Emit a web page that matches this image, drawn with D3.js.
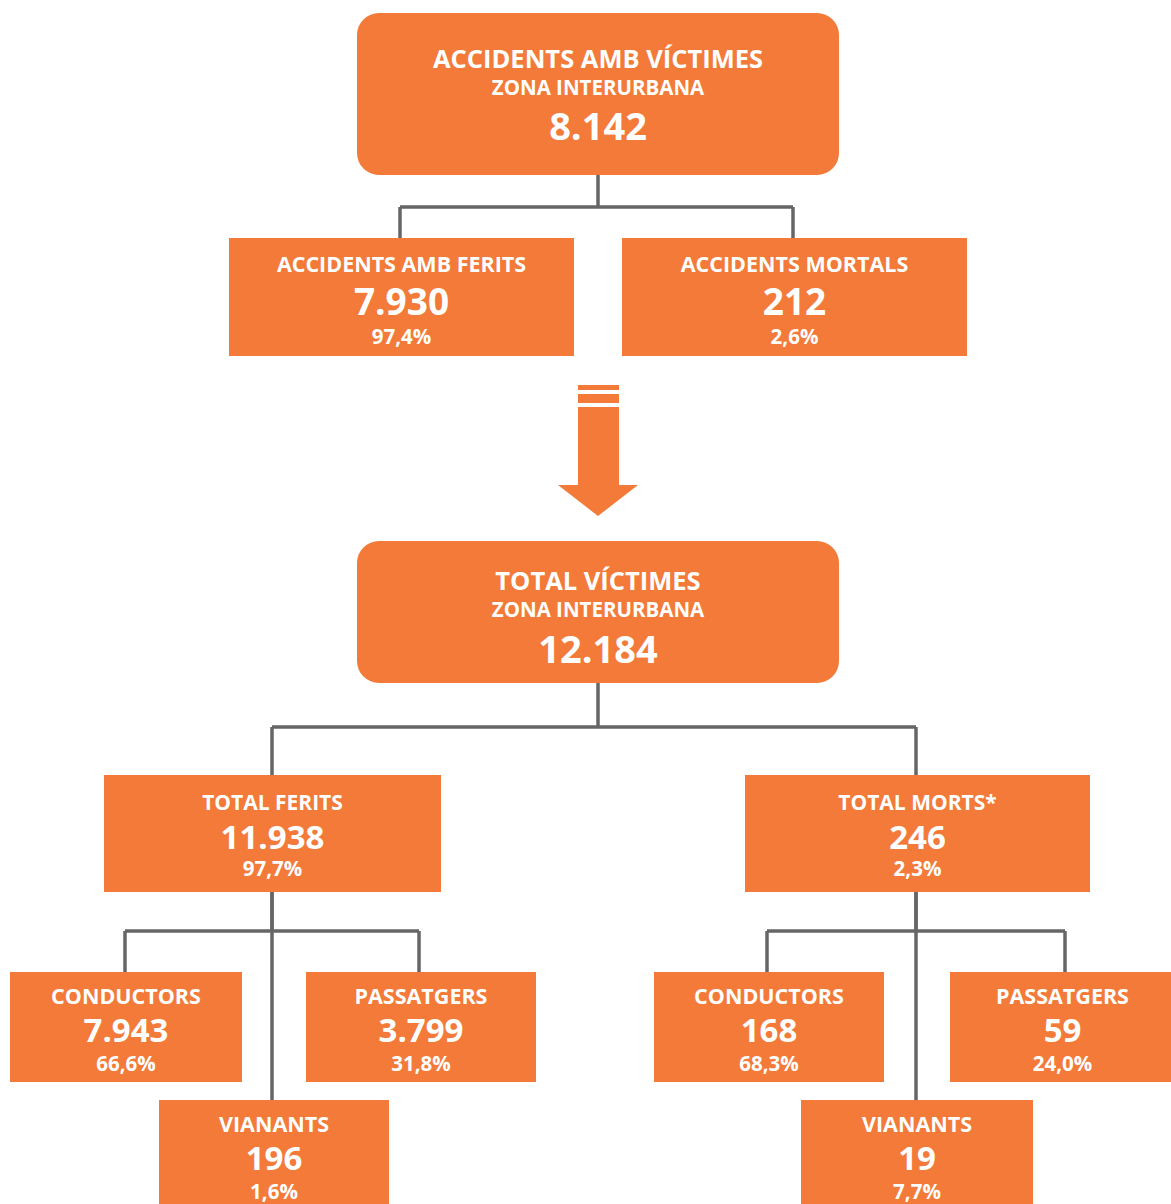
<!DOCTYPE html>
<html><head><meta charset="utf-8">
<script src="https://cdn.jsdelivr.net/npm/d3@7"></script>
<style>html,body{margin:0;padding:0;background:#fff}svg{display:block}</style>
</head><body>
<script>
// ---- data ----
const nodeIds   = ["acc","accF","accM","vic","fer","mor","ferC","ferP","ferV","morC","morP","morV"];
const titles    = ["ACCIDENTS AMB VÍCTIMES","ACCIDENTS AMB FERITS","ACCIDENTS MORTALS","TOTAL VÍCTIMES","TOTAL FERITS","TOTAL MORTS*","CONDUCTORS","PASSATGERS","VIANANTS","CONDUCTORS","PASSATGERS","VIANANTS"];
const subtitles = ["ZONA INTERURBANA","","","ZONA INTERURBANA","","","","","","","",""];
const values    = ["8.142","7.930","212","12.184","11.938","246","7.943","3.799","196","168","59","19"];
const percents  = ["","97,4%","2,6%","","97,7%","2,3%","66,6%","31,8%","1,6%","68,3%","24,0%","7,7%"];
const parents   = ["","acc","acc","","vic","vic","fer","fer","fer","mor","mor","mor"];

// ---- layout (positions/sizes only) ----
const W = 1171, H = 1204;
const ORANGE = "#F37A38", GREY = "#666666";
const box = {
  acc:  {x:357, y:13,  w:482, h:162, r:22, kind:"big"},
  accF: {x:229, y:238, w:345, h:118, kind:"mid"},
  accM: {x:622, y:238, w:345, h:118, kind:"mid"},
  vic:  {x:357, y:541, w:482, h:142, r:22, kind:"big2"},
  fer:  {x:104, y:775, w:337, h:117, kind:"mid2"},
  mor:  {x:745, y:775, w:345, h:117, kind:"mid2"},
  ferC: {x:10,  y:972, w:232, h:110, kind:"small"},
  ferP: {x:306, y:972, w:230, h:110, kind:"small"},
  ferV: {x:159, y:1100,w:230, h:110, kind:"small"},
  morC: {x:654, y:972, w:230, h:110, kind:"small"},
  morP: {x:950, y:972, w:225, h:110, kind:"small"},
  morV: {x:801, y:1100,w:232, h:110, kind:"small"}
};
const barY = {acc:207, vic:727, fer:931, mor:931};
const childX = {accF:400, accM:793, fer:272, mor:916, ferC:125, ferP:419, ferV:272, morC:767, morP:1065, morV:916};
const trunkX = {acc:598, vic:598, fer:272, mor:916};

const styles = {
  big:  {t:{dy:55, fs:25.5}, s:{dy:82, fs:20.5}, v:{dy:127, fs:38}},
  big2: {t:{dy:49, fs:25.5}, s:{dy:76, fs:20.5}, v:{dy:122, fs:38}},
  mid:  {t:{dy:34, fs:21.5}, v:{dy:77, fs:37}, p:{dy:106, fs:20.5}},
  mid2: {t:{dy:35, fs:21}, v:{dy:74, fs:33}, p:{dy:101, fs:20.5}},
  small:{t:{dy:32, fs:21.5}, v:{dy:70, fs:33}, p:{dy:99, fs:20.5}}
};

const nodes = nodeIds.map((id,i)=>({id, title:titles[i], sub:subtitles[i], value:values[i], pct:percents[i], parent:parents[i], ...box[id]}));

const svg = d3.select("body").append("svg").attr("width",W).attr("height",H)
  .attr("font-family","'Open Sans','Noto Sans',sans-serif");

// connectors
const lineG = svg.append("g").attr("stroke",GREY).attr("stroke-width",3.5).attr("fill","none");
const byId = Object.fromEntries(nodes.map(n=>[n.id,n]));
["acc","vic","fer","mor"].forEach(pid=>{
  const p = byId[pid];
  const kids = nodes.filter(n=>n.parent===pid);
  const xs = kids.map(k=>childX[k.id]);
  const tx = trunkX[pid];
  lineG.append("path").attr("d",`M${tx},${p.y+p.h}V${barY[pid]}`);
  lineG.append("path").attr("d",`M${d3.min(xs)},${barY[pid]}H${d3.max(xs)}`);
  kids.forEach(k=>{
    const x = childX[k.id];
    const y0 = (x===tx) ? p.y+p.h : barY[pid];
    lineG.append("path").attr("d",`M${x},${y0}V${k.y}`);
  });
});

// arrow
const ag = svg.append("g").attr("fill",ORANGE);
ag.append("rect").attr("x",578).attr("y",385).attr("width",41).attr("height",5);
ag.append("rect").attr("x",578).attr("y",394).attr("width",41).attr("height",9);
ag.append("path").attr("d","M578,407H619V485H638L598,516L558,485H578Z");

// boxes
const g = svg.selectAll("g.node").data(nodes).join("g").attr("class","node")
  .attr("transform",d=>`translate(${d.x},${d.y})`);
g.append("rect").attr("width",d=>d.w).attr("height",d=>d.h)
  .attr("rx",d=>d.r||0).attr("fill",ORANGE);

function addText(sel, key, field){
  sel.filter(d=>d[field] && styles[d.kind][key]).append("text")
    .attr("x",d=>d.w/2).attr("y",d=>styles[d.kind][key].dy)
    .attr("text-anchor","middle").attr("fill","#fff").attr("font-weight","bold")
    .attr("font-size",d=>styles[d.kind][key].fs)
    .text(d=>d[field]);
}
addText(g,"t","title");
addText(g,"s","sub");
addText(g,"v","value");
addText(g,"p","pct");
</script>
</body></html>
